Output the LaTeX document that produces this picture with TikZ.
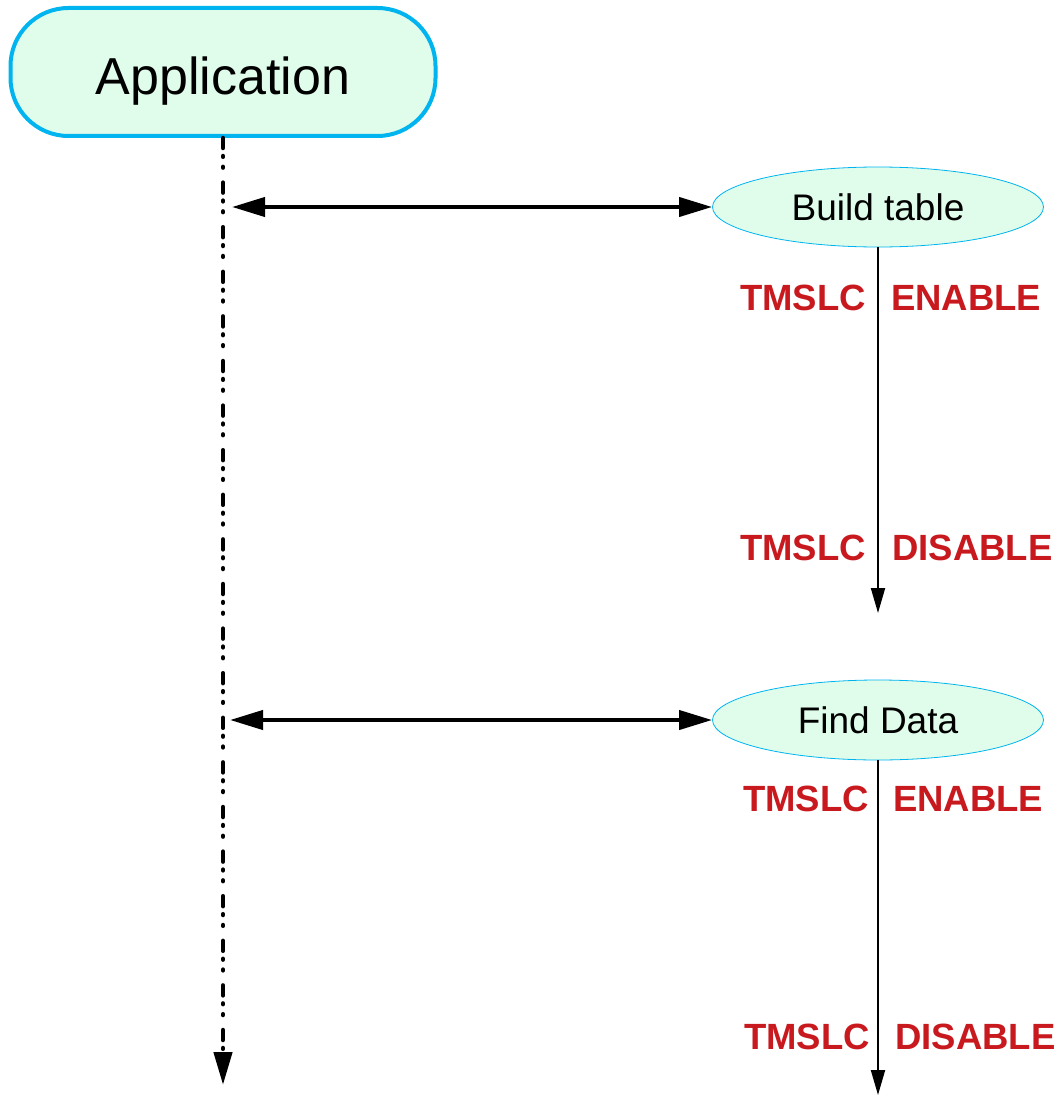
\documentclass[tikz,border=0pt]{standalone}
\usepackage{fontspec}
\setmainfont{Liberation Sans}
\usetikzlibrary{shapes.geometric,arrows.meta}
\definecolor{mint}{HTML}{E0FCEA}
\definecolor{skyb}{HTML}{00B4F0}
\definecolor{lblred}{HTML}{C8191E}
\tikzset{
  appbox/.style={draw=skyb, line width=4pt, fill=mint, rounded corners=58pt,
    minimum width=425pt, minimum height=128pt, inner sep=0pt,
    text height=46pt, text depth=0pt,
    font=\fontsize{52}{52}\selectfont},
  procell/.style={ellipse, draw=skyb, line width=0.8pt, fill=mint,
    minimum width=331pt, minimum height=80pt, inner sep=0pt,
    font=\fontsize{37}{37}\selectfont},
  lbl/.style={text=lblred, inner sep=0pt, font=\fontsize{36.5}{36.5}\selectfont\bfseries},
  lifeline/.style={line width=4.5pt, line cap=round,
    dash pattern=on 10pt off 8pt on 0.8pt off 10pt on 0.8pt off 15pt,
    -{Triangle[length=33pt,width=18pt]}},
  callarrow/.style={line width=4pt,
    {Triangle[length=33pt,width=19pt]}-{Triangle[length=33pt,width=19pt]}},
  flowarrow/.style={line width=2pt, -{Triangle[length=25pt,width=14pt]}}
}
\begin{document}
\begin{tikzpicture}[x=1pt,y=-1pt]
\useasboundingbox (0,0) rectangle (1059,1097);
\node[appbox] (app) at (223,72) {Application};
\coordinate (lifeend) at (223,1085);
\draw[lifeline] (app.south) -- (lifeend);

\node[procell] (bt) at (878,207) {Build table};
\coordinate (c1) at (232,207);
\draw[callarrow] (c1) -- (bt.west);
\coordinate (e1) at (878,613);
\draw[flowarrow] (bt.south) -- (e1);
\node[lbl, anchor=east] (t1) at (866,298) {TMSLC};
\node[lbl, anchor=west] (en1) at (891,298) {ENABLE};
\node[lbl, anchor=east] (t2) at (866,548) {TMSLC};
\node[lbl, anchor=west] (d1) at (892,548) {DISABLE};

\node[procell] (fd) at (878,720) {Find Data};
\coordinate (c2) at (230,720);
\draw[callarrow] (c2) -- (fd.west);
\coordinate (e2) at (878,1095);
\draw[flowarrow] (fd.south) -- (e2);
\node[lbl, anchor=east] (t3) at (869,799) {TMSLC};
\node[lbl, anchor=west] (en2) at (893,799) {ENABLE};
\node[lbl, anchor=east] (t4) at (870,1037) {TMSLC};
\node[lbl, anchor=west] (d2) at (895,1037) {DISABLE};
\end{tikzpicture}
\end{document}
